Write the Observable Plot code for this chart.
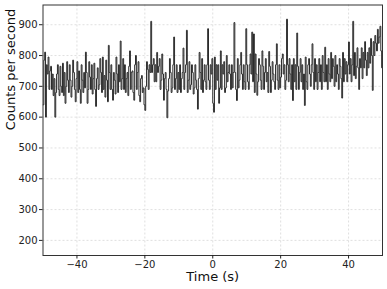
<!DOCTYPE html>
<html>
<head>
<meta charset="utf-8">
<script src="https://cdn.jsdelivr.net/npm/d3@7"></script>
<script src="https://cdn.jsdelivr.net/npm/@observablehq/plot@0.6"></script>
<style>
  html, body { margin: 0; padding: 0; background: #fff; }
  #chart svg { display: block; }
</style>
</head>
<body>
<div id="chart"></div>
<script>
// Light curve: bins of 0.25 s starting at -50 s
const binStart = -50;
const binWidth = 0.25;
const rates = [
  640, 785, 811, 600, 770, 740, 795, 690, 750, 765,
  690, 740, 670, 725, 600, 680, 740, 770, 690, 670,
  765, 700, 680, 775, 670, 745, 645, 700, 780, 720,
  680, 770, 720, 665, 700, 785, 745, 690, 650, 725,
  780, 680, 750, 690, 645, 770, 720, 680, 745, 695,
  811, 745, 645, 690, 780, 730, 690, 770, 675, 725,
  775, 690, 635, 725, 760, 690, 705, 790, 745, 680,
  795, 690, 735, 665, 785, 720, 650, 833, 745, 690,
  770, 690, 655, 745, 720, 675, 795, 740, 680, 770,
  715, 847, 690, 725, 790, 690, 770, 680, 725, 745,
  670, 765, 815, 690, 745, 750, 680, 655, 770, 800,
  690, 745, 780, 670, 650, 725, 735, 680, 695, 640,
  622, 700, 780, 755, 690, 770, 745, 911, 745, 770,
  790, 715, 770, 715, 810, 745, 765, 790, 690, 720,
  805, 740, 655, 725, 745, 690, 598, 685, 725, 790,
  745, 680, 695, 770, 860, 690, 725, 770, 680, 745,
  690, 770, 680, 725, 745, 824, 690, 745, 770, 882,
  680, 720, 780, 690, 705, 770, 745, 675, 695, 770,
  720, 690, 626, 725, 810, 745, 690, 790, 680, 720,
  770, 715, 690, 770, 887, 720, 690, 770, 740, 790,
  645, 616, 795, 690, 770, 720, 770, 645, 695, 815,
  690, 770, 740, 780, 680, 695, 800, 715, 745, 770,
  740, 690, 770, 695, 745, 907, 745, 690, 654, 790,
  695, 720, 770, 810, 740, 690, 770, 715, 690, 887,
  770, 715, 690, 770, 805, 740, 876, 715, 870, 680,
  805, 740, 671, 715, 790, 770, 720, 690, 815, 765,
  690, 745, 790, 715, 745, 680, 813, 765, 680, 720,
  780, 740, 715, 690, 770, 838, 720, 690, 770, 695,
  730, 790, 805, 740, 770, 690, 720, 918, 770, 715,
  790, 740, 690, 770, 654, 790, 715, 770, 690, 873,
  765, 690, 745, 790, 715, 770, 690, 740, 638, 795,
  715, 690, 770, 790, 740, 700, 770, 838, 745, 690,
  790, 715, 770, 690, 745, 790, 715, 770, 690, 800,
  745, 715, 827, 715, 770, 690, 790, 740, 715, 810,
  725, 790, 765, 700, 800, 715, 770, 740, 690, 790,
  765, 725, 662, 810, 715, 790, 740, 780, 715, 770,
  844, 740, 790, 715, 770, 911, 735, 810, 725, 765,
  825, 760, 690, 790, 760, 825, 725, 810, 760, 845,
  785, 735, 810, 760, 825, 775, 855, 800, 687, 845,
  800, 865, 840, 815, 885, 840, 860, 895, 815, 760
];
const xTicks = [-40, -20, 0, 20, 40];
const yTicks = [200, 300, 400, 500, 600, 700, 800, 900];
const xLabel = "Time (s)";
const yLabel = "Counts per second";

const data = rates.map((r, i) => ({t: binStart + i * binWidth, rate: r}));
// close the last bin at its right edge
data.push({t: binStart + rates.length * binWidth, rate: rates[rates.length - 1]});

const chart = Plot.plot({
  width: 387,
  height: 289,
  marginLeft: 42.5,
  marginRight: 5,
  marginTop: 4.5,
  marginBottom: 34,
  style: {fontFamily: "DejaVu Sans, sans-serif", fontSize: "10px", color: "#222", background: "#fff"},
  x: {domain: [-50, 50]},
  y: {domain: [151, 964]},
  marks: [
    Plot.gridX(xTicks, {stroke: "#d8d8d8", strokeOpacity: 1, strokeDasharray: "2,2", strokeWidth: 0.8}),
    Plot.gridY(yTicks, {stroke: "#d8d8d8", strokeOpacity: 1, strokeDasharray: "2,2", strokeWidth: 0.8}),
    Plot.lineY(data, {x: "t", y: "rate", curve: "step-after", stroke: "#2b2b2b", strokeWidth: 1, clip: true}),
    Plot.frame({stroke: "#333", strokeWidth: 1}),
    Plot.axisX(xTicks, {tickSize: 3.5, tickPadding: 2, label: null, fontSize: 10,
      tickFormat: d => d < 0 ? "\u2212" + Math.abs(d) : String(d)}),
    Plot.axisY(yTicks, {tickSize: 3.5, tickPadding: 2, label: null, fontSize: 10}),
    Plot.text([xLabel], {frameAnchor: "bottom", dy: 21, fontSize: 13, fill: "#111", lineAnchor: "middle"}),
    Plot.text([yLabel], {frameAnchor: "left", dx: -32, rotate: -90, fontSize: 13, fill: "#111", lineAnchor: "middle"})
  ]
});
document.getElementById("chart").appendChild(chart);
</script>
</body>
</html>
